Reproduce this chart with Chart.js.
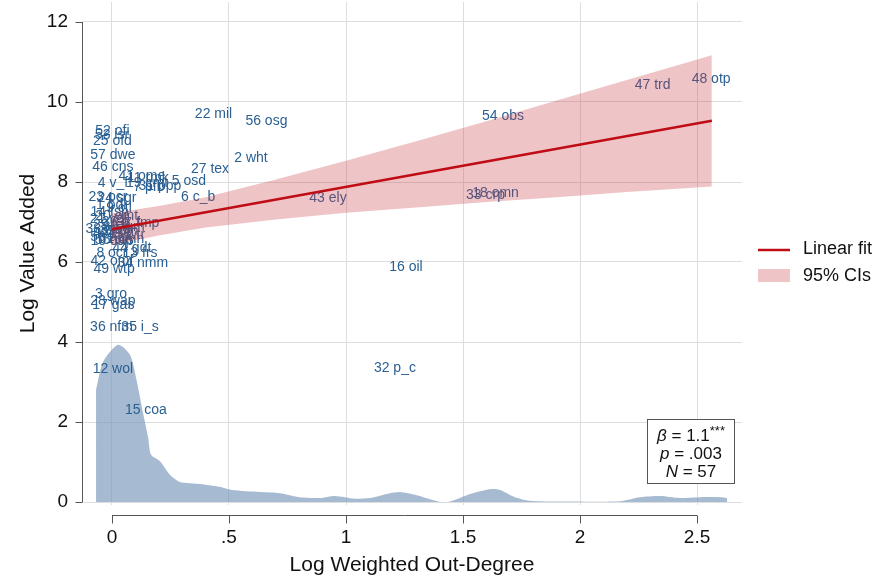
<!DOCTYPE html>
<html lang="en">
<head>
<meta charset="UTF-8" />
<title>Log Value Added vs Log Weighted Out-Degree</title>
<script src="https://cdn.jsdelivr.net/npm/chart.js"></script>
<style>
  html, body { margin: 0; padding: 0; background: #fff; }
</style>
</head>
<body>
<canvas id="grafico" width="875" height="578"></canvas>
<script>
// sector labels (GTAP codes) with their position: x = log weighted out-degree, y = log value added
const labelNames = [
  "52 ofi", "53 isr", "25 ofd", "57 dwe", "46 cns", "41 ome", "11 rmk", "4 v_f", "19 cmt", "7 pfb",
  "31 ppp", "5 osd", "6 c_b", "27 tex", "22 mil", "2 wht", "56 osg", "43 ely", "54 obs", "47 trd",
  "48 otp", "33 crp", "18 omn", "16 oil", "32 p_c", "23 pcr", "24 sgr", "37 fmp", "8 ocr", "13 frs",
  "44 gdt", "10 oap", "42 omf", "34 nmm", "49 wtp", "3 gro", "28 wap", "17 gas", "36 nfm", "35 i_s",
  "12 wol", "15 coa", "1 pdr", "9 ctl", "14 fsh", "20 omt", "21 vol", "26 b_t", "29 lea", "30 lum",
  "38 mvh", "39 otn", "40 ele", "45 wtr", "50 atp", "51 cmn", "55 ros"
];
const labelX = [
  0.002, 0.0, 0.002, 0.004, 0.004, 0.128, 0.154, 0.004, 0.15, 0.158,
  0.205, 0.329, 0.368, 0.419, 0.434, 0.594, 0.66, 0.923, 1.671, 2.31,
  2.56, 1.596, 1.639, 1.256, 1.209, -0.017, 0.021, 0.111, 0.0, 0.12,
  0.085, 0.0, 0.0, 0.132, 0.009, -0.004, 0.004, 0.006, -0.002, 0.12,
  0.004, 0.145, 0.0, 0.03, -0.01, 0.02, -0.015, 0.04, 0.0, 0.05,
  -0.015, 0.03, 0.0, 0.06, -0.01, 0.04, 0.01
];
const labelY = [
  9.26, 9.18, 9.03, 8.68, 8.37, 8.15, 8.10, 7.98, 7.98, 7.88,
  7.90, 8.01, 7.62, 8.33, 9.70, 8.59, 9.53, 7.59, 9.65, 10.43,
  10.58, 7.68, 7.72, 5.88, 3.35, 7.63, 7.60, 6.98, 6.23, 6.23,
  6.35, 6.51, 6.03, 5.98, 5.83, 5.20, 5.03, 4.93, 4.38, 4.38,
  3.33, 2.30, 7.42, 7.35, 7.25, 7.15, 7.08, 7.00, 6.93, 6.88,
  6.83, 6.78, 6.72, 6.68, 6.63, 6.58, 6.55
];

// linear fit and its 95% confidence band
const fitX = [-0.001, 2.563];
const fitY = [6.82, 9.53];
const ciX = [-0.001, 0.2, 0.4, 0.7, 1.0, 1.3, 1.6, 1.9, 2.2, 2.563];
const ciUpper = [7.22, 7.40, 7.62, 8.06, 8.53, 9.02, 9.52, 10.04, 10.55, 11.17];
const ciLower = [6.42, 6.66, 6.86, 7.06, 7.23, 7.36, 7.50, 7.62, 7.75, 7.89];

// kernel density of the out-degree (drawn on the y scale)
const densityX = [-0.068, -0.038, 0.026, 0.077, 0.105, 0.133, 0.154, 0.167, 0.205, 0.248, 0.29, 0.376,
  0.46, 0.513, 0.632, 0.718, 0.803, 0.889, 0.953, 1.038, 1.103, 1.188, 1.231, 1.295, 1.402, 1.444,
  1.53, 1.615, 1.658, 1.722, 1.786, 1.915, 2.171, 2.256, 2.342, 2.427, 2.513, 2.598, 2.628];
const densityY = [2.8, 3.5, 3.93, 3.68, 3.05, 2.22, 1.63, 1.18, 1.02, 0.68, 0.5, 0.45,
  0.38, 0.3, 0.25, 0.22, 0.12, 0.1, 0.15, 0.08, 0.1, 0.22, 0.25, 0.18, 0.0, 0.01,
  0.2, 0.32, 0.3, 0.12, 0.03, 0.01, 0.02, 0.12, 0.15, 0.1, 0.12, 0.12, 0.1];

const xTicks = [0, 0.5, 1, 1.5, 2, 2.5];
const yTicks = [0, 2, 4, 6, 8, 10, 12];

const FONT = "'Liberation Sans', Arial, Helvetica, sans-serif";
const fitColor = "rgb(192, 12, 20)";
const ciColor = "rgba(200, 60, 70, 0.3)";
const labelColor = "#2a5f92";
const densColor = "rgba(120, 150, 185, 0.66)";

const pts = (xs, ys) => xs.map((v, i) => ({ x: v, y: ys[i] }));

// extra drawing: point labels, Stata-like axis lines, legend, stats box
const extras = {
  id: "extras",
  afterDatasetDraw(chart, args) {
    if (args.index !== 3) return;
    const ctx = chart.ctx;
    ctx.save();
    ctx.font = "14px " + FONT;
    ctx.fillStyle = labelColor;
    ctx.textAlign = "center";
    ctx.textBaseline = "middle";
    args.meta.data.forEach((p, i) => ctx.fillText(labelNames[i], p.x, p.y));
    ctx.restore();
  },
  afterDraw(chart) {
    const { ctx, chartArea: a } = chart;
    const sx = chart.scales.x, sy = chart.scales.y;
    ctx.save();
    // axes
    ctx.strokeStyle = "#555";
    ctx.lineWidth = 1;
    ctx.beginPath();
    const ax = Math.round(a.left) + 0.5;
    ctx.moveTo(ax, sy.getPixelForValue(yTicks[0]));
    ctx.lineTo(ax, sy.getPixelForValue(yTicks[yTicks.length - 1]));
    yTicks.forEach(v => {
      const p = Math.round(sy.getPixelForValue(v)) + 0.5;
      ctx.moveTo(ax - 7, p);
      ctx.lineTo(ax, p);
    });
    const ay = Math.round(a.bottom) + 10.5;
    ctx.moveTo(sx.getPixelForValue(xTicks[0]), ay);
    ctx.lineTo(sx.getPixelForValue(xTicks[xTicks.length - 1]), ay);
    xTicks.forEach(v => {
      const p = Math.round(sx.getPixelForValue(v)) + 0.5;
      ctx.moveTo(p, ay);
      ctx.lineTo(p, ay + 8);
    });
    ctx.stroke();

    // legend
    const lx = a.right + 16;
    ctx.strokeStyle = fitColor;
    ctx.lineWidth = 2.5;
    ctx.beginPath();
    ctx.moveTo(lx, 250);
    ctx.lineTo(lx + 32, 250);
    ctx.stroke();
    ctx.fillStyle = ciColor;
    ctx.fillRect(lx, 269, 32, 13);
    ctx.fillStyle = "#111";
    ctx.font = "18px " + FONT;
    ctx.textAlign = "left";
    ctx.textBaseline = "middle";
    ctx.fillText("Linear fit", lx + 45, 249);
    ctx.fillText("95% CIs", lx + 45, 276);

    // stats box
    ctx.fillStyle = "#fff";
    ctx.fillRect(648, 420, 87, 64);
    ctx.strokeStyle = "#555";
    ctx.lineWidth = 1;
    ctx.strokeRect(647.5, 419.5, 87, 64);
    const cx = 691;
    const line = (it, rest, sup, yy) => {
      ctx.font = "italic 17px " + FONT;
      const w1 = ctx.measureText(it).width;
      ctx.font = "17px " + FONT;
      const w2 = ctx.measureText(rest).width;
      ctx.font = "13px " + FONT;
      const w3 = sup ? ctx.measureText(sup).width : 0;
      const x0 = cx - (w1 + w2 + w3) / 2;
      ctx.fillStyle = "#111";
      ctx.textAlign = "left";
      ctx.textBaseline = "middle";
      ctx.font = "italic 17px " + FONT;
      ctx.fillText(it, x0, yy);
      ctx.font = "17px " + FONT;
      ctx.fillText(rest, x0 + w1, yy);
      if (sup) {
        ctx.font = "13px " + FONT;
        ctx.fillText(sup, x0 + w1 + w2, yy - 5);
      }
    };
    line("\u03b2", " = 1.1", "***", 436);
    line("p", " = .003", "", 454);
    line("N", " = 57", "", 472);
    ctx.restore();
  }
};

new Chart(document.getElementById("grafico"), {
  type: "scatter",
  data: {
    datasets: [
      { label: "Linear fit", data: pts(fitX, fitY), showLine: true, borderColor: fitColor,
        borderWidth: 2.5, pointRadius: 0, fill: false, order: 0 },
      { label: "ci upper", data: pts(ciX, ciUpper), showLine: true, borderWidth: 0,
        borderColor: "rgba(0,0,0,0)", pointRadius: 0, fill: false, order: 1 },
      { label: "95% CIs", data: pts(ciX, ciLower), showLine: true, borderWidth: 0,
        borderColor: "rgba(0,0,0,0)", backgroundColor: ciColor, pointRadius: 0, fill: "-1", order: 1 },
      { label: "sectors", data: pts(labelX, labelY), pointRadius: 0, order: 2 },
      { label: "density", data: pts(densityX, densityY), showLine: true, borderWidth: 0,
        borderColor: "rgba(0,0,0,0)", backgroundColor: densColor, pointRadius: 0,
        fill: "origin", tension: 0.25, order: 3 }
    ]
  },
  options: {
    responsive: false,
    animation: false,
    events: [],
    layout: { padding: { top: 2, right: 133, left: 0, bottom: 0 } },
    plugins: { legend: { display: false }, tooltip: { enabled: false } },
    scales: {
      x: {
        type: "linear",
        min: -0.128,
        max: 2.692,
        afterBuildTicks: s => { s.ticks = xTicks.map(v => ({ value: v })); },
        afterFit: s => { s.height = 73; s.paddingLeft = 0; s.paddingRight = 0; },
        grid: { color: "#dedede", lineWidth: 1, drawTicks: false },
        border: { display: false },
        ticks: {
          padding: 21,
          color: "#111",
          font: { size: 19, family: FONT },
          callback: v => (v === 0 ? "0" : String(v).replace(/^0\./, "."))
        },
        title: { display: true, text: "Log Weighted Out-Degree", color: "#111",
          font: { size: 21, family: FONT }, padding: { top: 0, bottom: 0 } }
      },
      y: {
        type: "linear",
        min: -0.075,
        max: 12.5,
        afterBuildTicks: s => { s.ticks = yTicks.map(v => ({ value: v })); },
        afterFit: s => { s.width = 82; s.paddingTop = 0; s.paddingBottom = 0; },
        grid: { color: "#dedede", lineWidth: 1, drawTicks: false },
        border: { display: false },
        ticks: { padding: 14, color: "#111", font: { size: 19, family: FONT } },
        title: { display: true, text: "Log Value Added", color: "#111",
          font: { size: 21, family: FONT }, padding: { top: 16, bottom: 0 } }
      }
    }
  },
  plugins: [extras]
});
</script>
</body>
</html>
